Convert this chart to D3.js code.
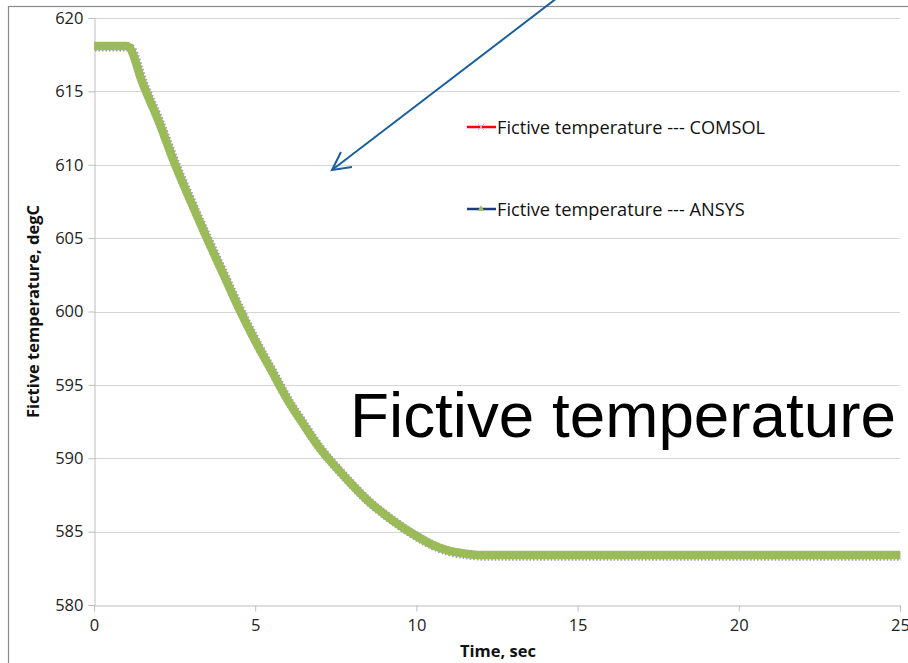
<!DOCTYPE html>
<html>
<head>
<meta charset="utf-8">
<script src="https://cdn.jsdelivr.net/npm/d3@7"></script>
<style>
  body { margin: 0; background: #fff; }
  svg { display: block; }
  .tick text { font-family: "Open Sans", sans-serif; font-size: 16.5px; fill: #222; }
</style>
</head>
<body>
<div id="chart"></div>
<script>
// time, sec
var times = [0, 0.5, 1, 1.1, 1.5, 2, 2.5, 3, 3.5, 4, 4.5, 5, 5.5, 6, 6.5, 7, 7.5, 8, 8.5, 9, 9.5, 10, 10.5, 11, 11.5, 12, 13, 15, 17.5, 20, 22.5, 25];
// fictive temperature, degC
var comsol = [618.1, 618.1, 618.1, 618.0, 615.6, 613.0, 610.1, 607.5, 605.0, 602.6, 600.2, 598.0, 596.0, 594.0, 592.3, 590.7, 589.4, 588.2, 587.1, 586.2, 585.4, 584.7, 584.1, 583.7, 583.5, 583.4, 583.4, 583.4, 583.4, 583.4, 583.4, 583.4];
var ansys  = [618.1, 618.1, 618.1, 618.0, 615.6, 613.0, 610.1, 607.5, 605.0, 602.6, 600.2, 598.0, 596.0, 594.0, 592.3, 590.7, 589.4, 588.2, 587.1, 586.2, 585.4, 584.7, 584.1, 583.7, 583.5, 583.4, 583.4, 583.4, 583.4, 583.4, 583.4, 583.4];
var xTicks = [0, 5, 10, 15, 20, 25];
var yTicks = [580, 585, 590, 595, 600, 605, 610, 615, 620];
var legendNames = ["Fictive temperature --- COMSOL", "Fictive temperature --- ANSYS"];

var W = 908, H = 663;
var svg = d3.select("#chart").append("svg")
  .attr("width", W)
  .attr("height", H);

// outer chart frame (cut by the picture edge)
svg.append("rect")
  .attr("x", 8.5).attr("y", 6.5)
  .attr("width", 1000).attr("height", 1000)
  .attr("fill", "none")
  .attr("stroke", "#8a8a8a")
  .attr("stroke-width", 1.2);

var x = d3.scaleLinear().domain([0, 25]).range([94, 900]);
var y = d3.scaleLinear().domain([580, 620]).range([605, 18]);

// gridlines
svg.append("g")
  .selectAll("line")
  .data(yTicks.slice(1))
  .enter().append("line")
  .attr("x1", x(0)).attr("x2", x(25))
  .attr("y1", function(d) { return Math.round(y(d)) + 0.5; })
  .attr("y2", function(d) { return Math.round(y(d)) + 0.5; })
  .attr("stroke", "#d4d4d4")
  .attr("stroke-width", 1);

var yAxis = svg.append("g")
  .attr("transform", "translate(" + (x(0) + 0.5) + ",0)")
  .call(d3.axisLeft(y).tickValues(yTicks).tickSize(6).tickPadding(5).tickFormat(d3.format("d")));
var xAxis = svg.append("g")
  .attr("transform", "translate(0," + (Math.round(y(580)) + 0.5) + ")")
  .call(d3.axisBottom(x).tickValues(xTicks).tickSize(6).tickPadding(8).tickFormat(d3.format("d")));
[yAxis, xAxis].forEach(function(a) {
  a.selectAll("path, line").attr("stroke", "#bdbdbd");
});

// axis titles
svg.append("text")
  .attr("x", 498).attr("y", 657)
  .attr("text-anchor", "middle")
  .attr("font-family", "'Open Sans', sans-serif")
  .attr("font-weight", "bold")
  .attr("font-size", "16.5px")
  .attr("fill", "#111")
  .text("Time, sec");
svg.append("text")
  .attr("transform", "translate(39," + ((y(580) + y(620)) / 2) + ") rotate(-90)")
  .attr("text-anchor", "middle")
  .attr("font-family", "'Open Sans', sans-serif")
  .attr("font-weight", "bold")
  .attr("font-size", "16.5px")
  .attr("fill", "#111")
  .text("Fictive temperature, degC");

var line = d3.line()
  .x(function(d, i) { return x(times[i]); })
  .y(function(d) { return y(d); })
  .curve(d3.curveMonotoneX);

// COMSOL: red line hidden under dense lavender x markers
svg.append("path")
  .datum(comsol)
  .attr("transform", "translate(1,0.8)")
  .attr("d", line)
  .attr("fill", "none")
  .attr("stroke", "#a08fd0")
  .attr("stroke-width", 9.5)
  .attr("stroke-dasharray", "1.5,2");
svg.append("path")
  .datum(comsol)
  .attr("d", line)
  .attr("fill", "none")
  .attr("stroke", "#ff0000")
  .attr("stroke-width", 2);

// ANSYS: dark blue line covered by dense green triangle markers
svg.append("path")
  .datum(ansys)
  .attr("d", line)
  .attr("fill", "none")
  .attr("stroke", "#9bbb59")
  .attr("stroke-width", 8.5)
  .attr("stroke-linejoin", "round");

// legend
var legend = svg.append("g");
var legendY = [127, 209];
var legendColor = ["#ff0000", "#1f3a7a"];
legendNames.forEach(function(name, i) {
  legend.append("line")
    .attr("x1", 467).attr("x2", 496)
    .attr("y1", legendY[i]).attr("y2", legendY[i])
    .attr("stroke", legendColor[i])
    .attr("stroke-width", 2.5);
  if (i === 0) {
    legend.append("path")
      .attr("d", "M478,124L484,130M484,124L478,130")
      .attr("stroke", "#b8a8e0").attr("stroke-width", 1);
  } else {
    legend.append("path")
      .attr("d", d3.symbol().type(d3.symbolTriangle).size(18)())
      .attr("transform", "translate(481," + legendY[i] + ")")
      .attr("fill", "#9bbb59");
  }
  legend.append("text")
    .attr("x", 497).attr("y", legendY[i] + 6.5)
    .attr("font-family", "'Open Sans', sans-serif")
    .attr("font-size", "18.2px")
    .attr("fill", "#111")
    .text(name);
});

// overlay title
svg.append("text")
  .attr("x", 350).attr("y", 437)
  .attr("font-family", "'Liberation Sans', Arial, sans-serif")
  .attr("font-size", "63.8px")
  .attr("fill", "#000")
  .text("Fictive temperature");

// callout arrow
svg.append("path")
  .attr("d", "M557,-2L332,170")
  .attr("stroke", "#1a5ea0").attr("stroke-width", 2).attr("fill", "none");
svg.append("path")
  .attr("d", "M341,152L332,170L352,167")
  .attr("stroke", "#1a5ea0").attr("stroke-width", 2).attr("fill", "none")
  .attr("stroke-linejoin", "miter");
</script>
</body>
</html>
